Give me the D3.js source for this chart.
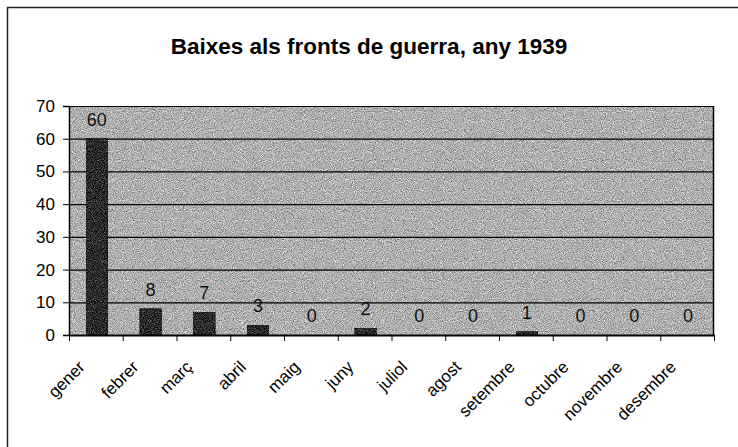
<!DOCTYPE html>
<html>
<head>
<meta charset="utf-8">
<script src="https://cdn.jsdelivr.net/npm/d3@7"></script>
<style>
  body { margin: 0; background: #fff; }
  text { font-family: "Liberation Sans", Arial, sans-serif; }
</style>
</head>
<body>
<div id="chart"></div>
<script>
const months = ['gener', 'febrer', 'març', 'abril', 'maig', 'juny', 'juliol', 'agost', 'setembre', 'octubre', 'novembre', 'desembre'];
const baixes = [60, 8, 7, 3, 0, 2, 0, 0, 1, 0, 0, 0];
const yTicks = [0, 10, 20, 30, 40, 50, 60, 70];
const title = 'Baixes als fronts de guerra, any 1939';

const width = 738;
const height = 447;
const margin = {top: 106, right: 24, bottom: 112, left: 69};
const innerW = width - margin.left - margin.right;
const innerH = height - margin.top - margin.bottom;

const svg = d3.select('#chart')
    .append('svg')
    .attr('width', width)
    .attr('height', height);

// scanned look: grain on the grey plot and the bars
const filter = svg.append('defs').append('filter')
    .attr('id', 'grain')
    .attr('x', 0).attr('y', 0).attr('width', 1).attr('height', 1)
    .attr('color-interpolation-filters', 'sRGB');
filter.append('feTurbulence')
    .attr('type', 'fractalNoise')
    .attr('baseFrequency', 1.1)
    .attr('numOctaves', 1)
    .attr('seed', 4)
    .attr('result', 'noise');
filter.append('feColorMatrix')
    .attr('in', 'noise')
    .attr('type', 'matrix')
    .attr('values', '0.33 0.33 0.33 0 0  0.33 0.33 0.33 0 0  0.33 0.33 0.33 0 0  0 0 0 0 1')
    .attr('result', 'grey');
filter.append('feComposite')
    .attr('in', 'SourceGraphic')
    .attr('in2', 'grey')
    .attr('operator', 'arithmetic')
    .attr('k1', 0).attr('k2', 1).attr('k3', 1.5).attr('k4', -0.75)
    .attr('result', 'mix');
filter.append('feComposite')
    .attr('in', 'mix')
    .attr('in2', 'SourceAlpha')
    .attr('operator', 'in');

// outer frame (only top and left survive in the scan)
svg.append('path')
    .attr('d', `M7.5,${height} V7.5 H${width}`)
    .attr('fill', 'none')
    .attr('stroke', '#222')
    .attr('stroke-width', 1.5);

svg.append('text')
    .attr('x', width / 2)
    .attr('y', 54)
    .attr('text-anchor', 'middle')
    .attr('font-size', '22.5px')
    .attr('font-weight', 'bold')
    .attr('fill', '#000')
    .text(title);

const chart = svg.append('g')
    .attr('transform', `translate(${margin.left},${margin.top})`);

const x = d3.scaleBand()
    .domain(months)
    .range([0, innerW])
    .paddingInner(0.6)
    .paddingOuter(0.3);

const band = d3.scaleBand().domain(months).range([0, innerW]);

const y = d3.scaleLinear()
    .domain([0, 70])
    .range([innerH, 0]);

chart.append('rect')
    .attr('width', innerW)
    .attr('height', innerH)
    .attr('fill', '#b0b0b0')
    .attr('filter', 'url(#grain)');

chart.append('g')
    .selectAll('line')
    .data(yTicks.filter(d => d > 0))
    .enter().append('line')
    .attr('x1', 0)
    .attr('x2', innerW)
    .attr('y1', d => y(d) + 0.5)
    .attr('y2', d => y(d) + 0.5)
    .attr('stroke', '#000')
    .attr('stroke-width', 1.2);

chart.append('line')
    .attr('x1', innerW - 0.5).attr('x2', innerW - 0.5)
    .attr('y1', 0).attr('y2', innerH)
    .attr('stroke', '#000')
    .attr('stroke-width', 1.5);

chart.selectAll('.bar')
    .data(baixes)
    .enter().append('rect')
    .attr('class', 'bar')
    .attr('x', (d, i) => x(months[i]) + 1)
    .attr('y', d => y(d))
    .attr('width', x.bandwidth())
    .attr('height', d => innerH - y(d))
    .attr('fill', '#2c2c2c')
    .attr('stroke', '#111')
    .attr('stroke-width', 0.8)
    .attr('filter', 'url(#grain)');

chart.selectAll('.val')
    .data(baixes)
    .enter().append('text')
    .attr('class', 'val')
    .attr('x', (d, i) => x(months[i]) + 1 + x.bandwidth() / 2)
    .attr('y', d => y(d) - 13)
    .attr('text-anchor', 'middle')
    .attr('font-size', '18px')
    .attr('fill', '#111')
    .text(d => d);

const yAxis = chart.append('g')
    .call(d3.axisLeft(y).tickValues(yTicks).tickSize(6).tickPadding(8).tickFormat(d3.format('d')));
yAxis.select('.domain').attr('stroke', '#000').attr('stroke-width', 1.5);
yAxis.selectAll('.tick line').attr('stroke', '#000');
yAxis.selectAll('.tick text')
    .attr('font-size', '17px')
    .attr('fill', '#000')
    .attr('font-family', '"Liberation Sans", Arial, sans-serif');

const xAxis = chart.append('g')
    .attr('transform', `translate(0,${innerH})`)
    .call(d3.axisBottom(band).tickSize(0).tickFormat(''));
xAxis.select('.domain').attr('stroke', '#000').attr('stroke-width', 2);

chart.append('g')
    .selectAll('line')
    .data(months.concat(['end']))
    .enter().append('line')
    .attr('x1', (d, i) => i * band.step() + 0.5)
    .attr('x2', (d, i) => i * band.step() + 0.5)
    .attr('y1', innerH)
    .attr('y2', innerH + 6)
    .attr('stroke', '#000');

chart.append('g')
    .selectAll('text')
    .data(months)
    .enter().append('text')
    .attr('transform', d => `translate(${band(d) + band.bandwidth() / 2 - 10},${innerH + 33}) rotate(-45)`)
    .attr('text-anchor', 'end')
    .attr('font-size', '17px')
    .attr('fill', '#000')
    .text(d => d);
</script>
</body>
</html>
